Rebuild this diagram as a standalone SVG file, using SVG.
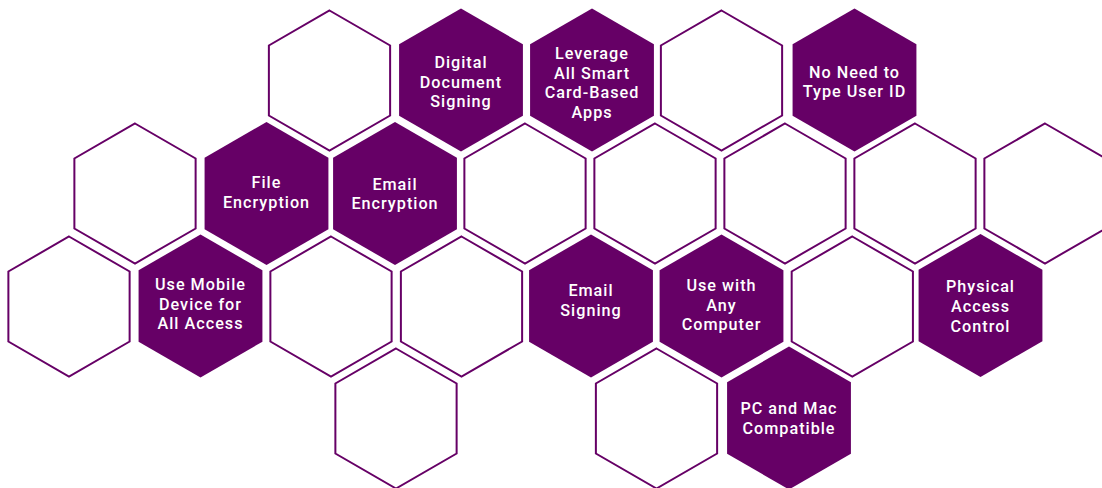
<svg xmlns="http://www.w3.org/2000/svg" width="1102" height="488" viewBox="0 0 1102 488">
  <style>
    .o { fill: #ffffff; stroke: #660066; stroke-width: 2; }
    .f { fill: #660066; stroke: none; }
    .t { fill: #ffffff; font-family: Roboto, "Open Sans", "Liberation Sans", sans-serif; font-size: 16.2px; font-weight: 500; letter-spacing: 1px; text-anchor: middle; }
  </style>
  <defs>
    <path id="ho" d="M0,-70 L60.62,-35 L60.62,35 L0,70 L-60.62,35 L-60.62,-35 Z"/>
    <path id="hf" d="M0,-71.5 L61.92,-35.75 L61.92,35.75 L0,71.5 L-61.92,35.75 L-61.92,-35.75 Z"/>
  </defs>
  <rect width="1102" height="488" fill="#ffffff"/>

  <!-- Row 0 -->
  <g id="r0-empty1"><use href="#ho" class="o" x="329.5" y="80.5"/></g>
  <g id="digital-document-signing">
    <use href="#hf" class="f" x="461" y="80"/>
    <text class="t"><tspan x="461" y="67.5">Digital</tspan><tspan x="461" y="87.5">Document</tspan><tspan x="461" y="107">Signing</tspan></text>
  </g>
  <g id="leverage-smart-card">
    <use href="#hf" class="f" x="592" y="80"/>
    <text class="t"><tspan x="592" y="59">Leverage</tspan><tspan x="592" y="78.5">All Smart</tspan><tspan x="592" y="98">Card-Based</tspan><tspan x="592" y="117.5">Apps</tspan></text>
  </g>
  <g id="r0-empty2"><use href="#ho" class="o" x="721.5" y="80.5"/></g>
  <g id="no-need-user-id">
    <use href="#hf" class="f" x="854.5" y="80"/>
    <text class="t"><tspan x="854.5" y="77.5">No Need to</tspan><tspan x="854.5" y="97">Type User ID</tspan></text>
  </g>

  <!-- Row 1 -->
  <g id="r1-empty1"><use href="#ho" class="o" x="135" y="193.5"/></g>
  <g id="file-encryption">
    <use href="#hf" class="f" x="266.5" y="193.5"/>
    <text class="t"><tspan x="266.5" y="188">File</tspan><tspan x="266.5" y="207.5">Encryption</tspan></text>
  </g>
  <g id="email-encryption">
    <use href="#hf" class="f" x="395" y="193.5"/>
    <text class="t"><tspan x="395" y="189.5">Email</tspan><tspan x="395" y="209">Encryption</tspan></text>
  </g>
  <g id="r1-empty2"><use href="#ho" class="o" x="525" y="193.5"/></g>
  <g id="r1-empty3"><use href="#ho" class="o" x="655" y="193.5"/></g>
  <g id="r1-empty4"><use href="#ho" class="o" x="785" y="193.5"/></g>
  <g id="r1-empty5"><use href="#ho" class="o" x="915" y="193.5"/></g>
  <g id="r1-empty6"><use href="#ho" class="o" x="1045" y="193.5"/></g>

  <!-- Row 2 -->
  <g id="r2-empty1"><use href="#ho" class="o" x="69" y="306.5"/></g>
  <g id="use-mobile-device">
    <use href="#hf" class="f" x="200.5" y="306"/>
    <text class="t"><tspan x="200.5" y="290">Use Mobile</tspan><tspan x="200.5" y="309.5">Device for</tspan><tspan x="200.5" y="329">All Access</tspan></text>
  </g>
  <g id="r2-empty2"><use href="#ho" class="o" x="331" y="306.5"/></g>
  <g id="r2-empty3"><use href="#ho" class="o" x="461.5" y="306.5"/></g>
  <g id="email-signing">
    <use href="#hf" class="f" x="591" y="306"/>
    <text class="t"><tspan x="591" y="296">Email</tspan><tspan x="591" y="315.5">Signing</tspan></text>
  </g>
  <g id="use-with-any-computer">
    <use href="#hf" class="f" x="721.5" y="306"/>
    <text class="t"><tspan x="721.5" y="291">Use with</tspan><tspan x="721.5" y="310.5">Any</tspan><tspan x="721.5" y="330">Computer</tspan></text>
  </g>
  <g id="r2-empty4"><use href="#ho" class="o" x="852.3" y="306.5"/></g>
  <g id="physical-access-control">
    <use href="#hf" class="f" x="980.5" y="305.5"/>
    <text class="t"><tspan x="980.5" y="291.5">Physical</tspan><tspan x="980.5" y="311.5">Access</tspan><tspan x="980.5" y="331.5">Control</tspan></text>
  </g>

  <!-- Row 3 -->
  <g id="r3-empty1"><use href="#ho" class="o" x="396" y="418.5"/></g>
  <g id="r3-empty2"><use href="#ho" class="o" x="656.5" y="418.5"/></g>
  <g id="pc-and-mac">
    <use href="#hf" class="f" x="789" y="418"/>
    <text class="t"><tspan x="789" y="413.5">PC and Mac</tspan><tspan x="789" y="433.5">Compatible</tspan></text>
  </g>

  <g id="connectors"></g>
</svg>
